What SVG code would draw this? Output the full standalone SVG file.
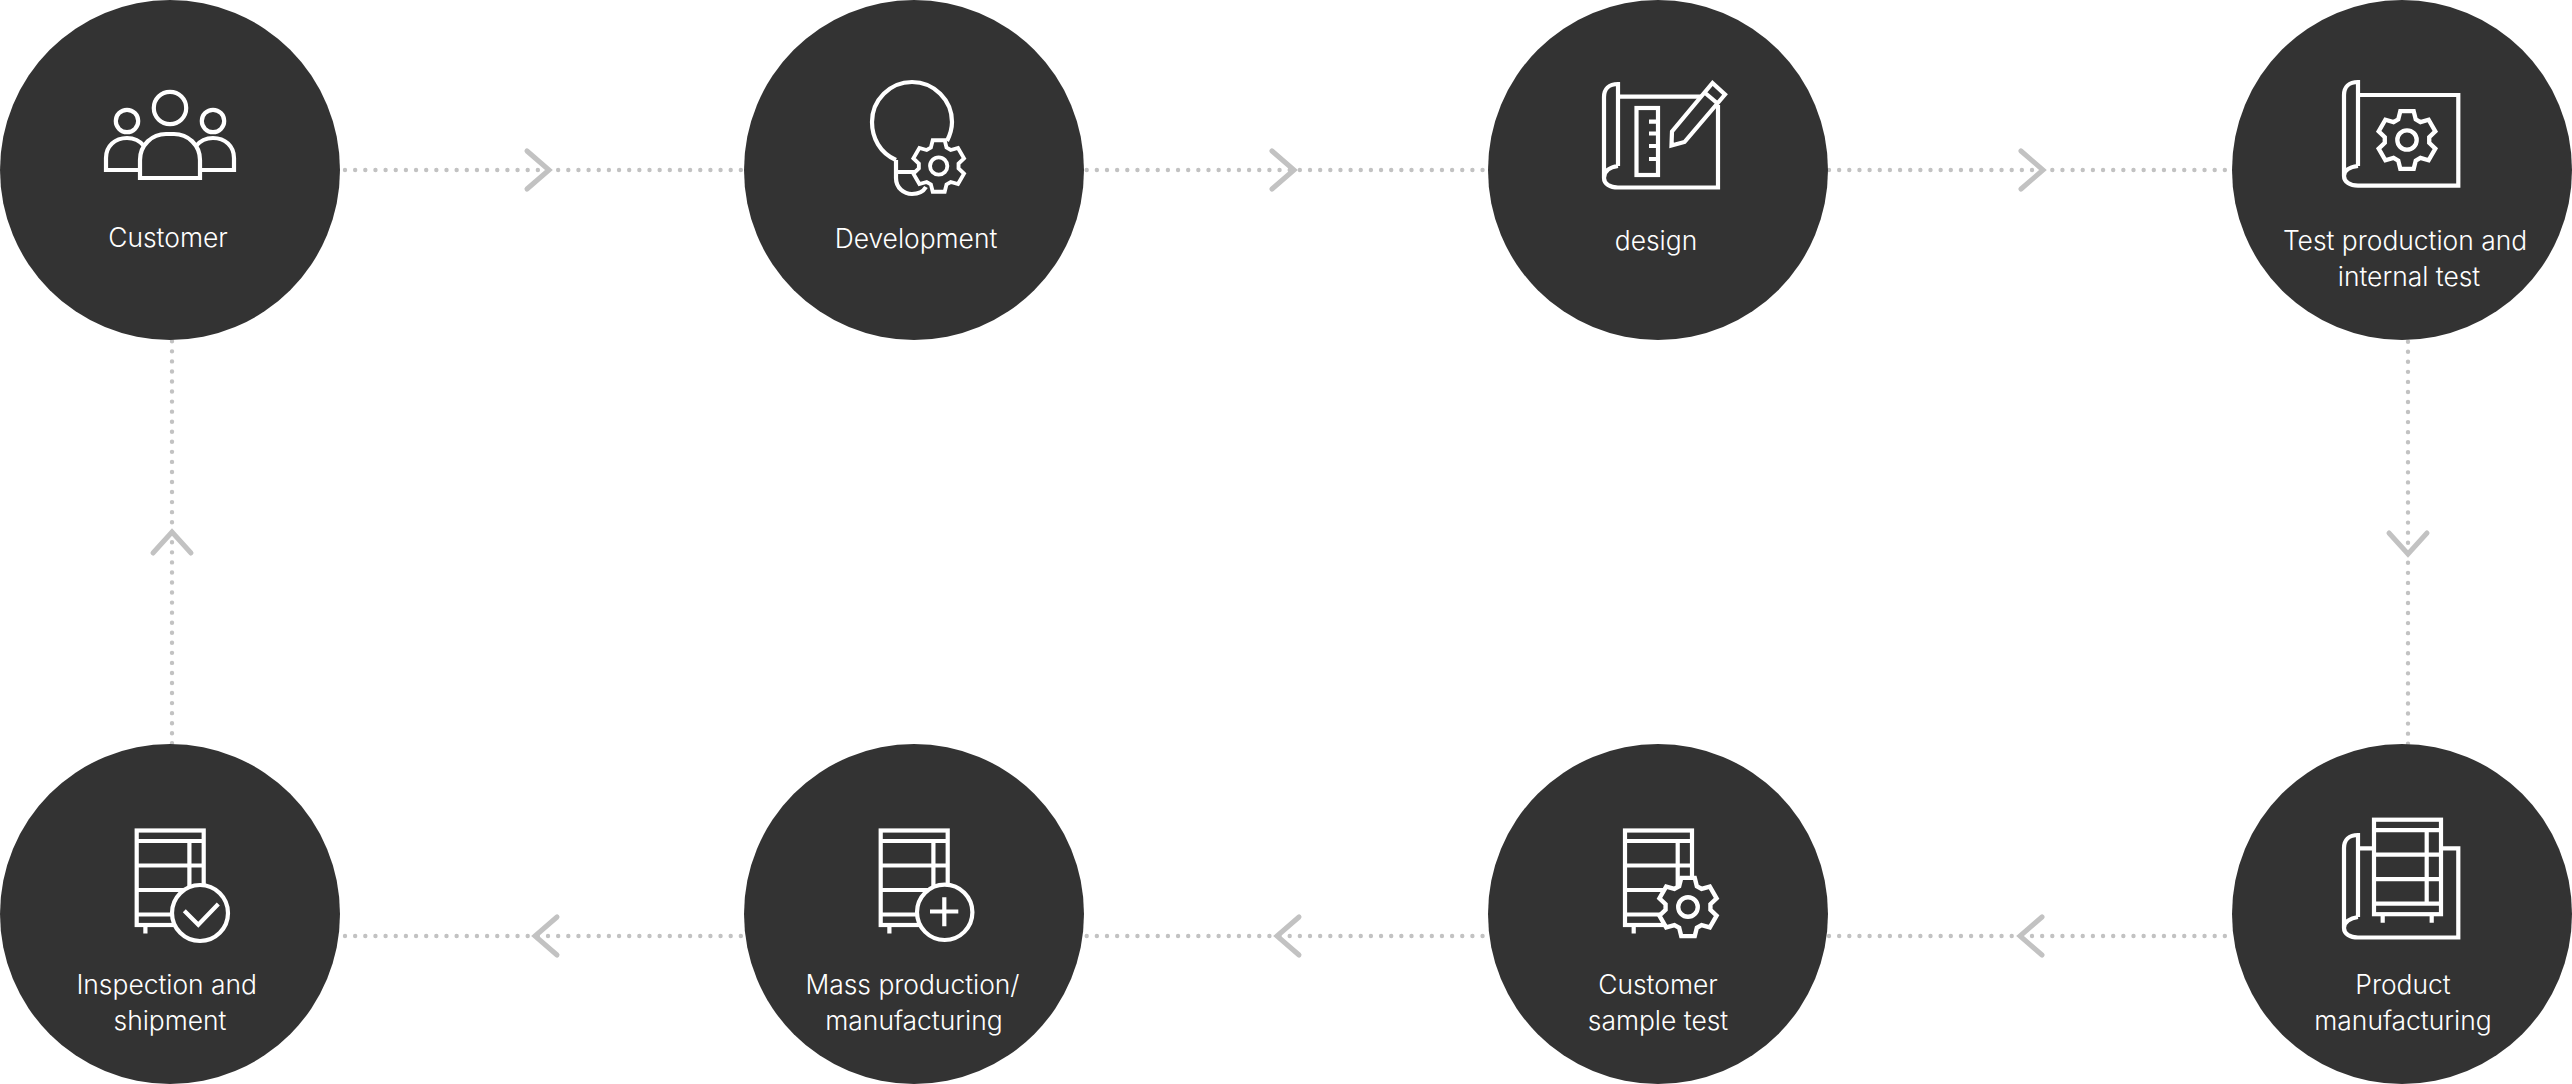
<svg xmlns="http://www.w3.org/2000/svg" width="2572" height="1084" viewBox="0 0 2572 1084">
<style>
.bg{fill:#333333}
.ic{fill:none;stroke:#ffffff;stroke-width:4.2;stroke-linejoin:miter}
.icf{fill:#333333;stroke:#ffffff;stroke-width:4.2;stroke-linejoin:miter}
.dot{fill:none;stroke:#c2c2c2;stroke-width:4.4;stroke-linecap:round;stroke-dasharray:0 10.15}
.dotv{fill:none;stroke:#c2c2c2;stroke-width:4.4;stroke-linecap:round;stroke-dasharray:0 10.05}
.chev{fill:none;stroke:#c2c2c2;stroke-width:5;stroke-linecap:round;stroke-linejoin:miter}
.t{font-family:Inter,"Liberation Sans",sans-serif;font-size:26.4px;font-weight:300;fill:#ffffff;text-anchor:middle}
</style>
<defs>
<g id="gear">
<path class="icf" d="M6.5 -28L8.5 -20L13.07 -17.36L21 -19.63L27.5 -8.37L21.57 -2.64L21.57 2.64L27.5 8.37L21 19.63L13.07 17.36L8.5 20L6.5 28L-6.5 28L-8.5 20L-13.07 17.36L-21 19.63L-27.5 8.37L-21.57 2.64L-21.57 -2.64L-27.5 -8.37L-21 -19.63L-13.07 -17.36L-8.5 -20L-6.5 -28Z"/>
<circle class="ic" r="9.4"/>
</g>
<g id="shelf">
<rect class="ic" x="0" y="0" width="67" height="94.5"/>
<path class="ic" d="M0 10.5H67M0 35H67M0 59.5H67M0 84H67M52.7 10.5V84M8.7 94.5V103M57.7 94.5V103"/>
</g>
</defs>
<g id="connectors">
<path class="dot" d="M345 170H744"/>
<path class="dot" d="M1086.7 170H1486"/>
<path class="dot" d="M1829 170H2228"/>
<path class="dot" d="M345 936H744"/>
<path class="dot" d="M1086.7 936H1486"/>
<path class="dot" d="M1829 936H2228"/>
<path class="dotv" d="M172 341.3V744"/>
<path class="dotv" d="M2408 341.7V744"/>
<path class="chev" d="M527 151L549 170L527 189"/>
<path class="chev" d="M1272 151L1294 170L1272 189"/>
<path class="chev" d="M2021 151L2043 170L2021 189"/>
<path class="chev" d="M2389 533L2408 554L2427 533"/>
<path class="chev" d="M2042 917L2020 936L2042 955"/>
<path class="chev" d="M1299 917L1277 936L1299 955"/>
<path class="chev" d="M557 917L535 936L557 955"/>
<path class="chev" d="M153 553L172 532L191 553"/>
</g>
<g id="node-customer">
<circle class="bg" cx="170" cy="170" r="170"/>
<circle class="ic" cx="170" cy="108" r="16.2"/>
<circle class="ic" cx="127" cy="121" r="11.2"/>
<circle class="ic" cx="213" cy="121" r="11.2"/>
<path class="ic" d="M140 178V160C140 145 152 134 166 134H174C188 134 200 145 200 160V178Z"/>
<path class="ic" d="M140 170H106V158C106 146 115 138 127 138C134 138 140 141 144 146"/>
<path class="ic" d="M200 170H234V158C234 146 225 138 213 138C206 138 200 141 196 146"/>
<text class="t" x="168" y="246.5">Customer</text>
</g>
<g id="node-development">
<circle class="bg" cx="914" cy="170" r="170"/>
<path class="ic" d="M896 160C880 153 872 138 872 122C872 100 890 82 912 82C934 82 952 100 952 122C952 129 950 135 947 141"/>
<path class="ic" d="M896 160V178C896 188 904 194 912 194C918 194 923 192 926 187M896 172H918"/>
<use href="#gear" transform="translate(938.7 166) scale(.92)"/>
<text class="t" x="916" y="247.5">Development</text>
</g>
<g id="node-design">
<circle class="bg" cx="1658" cy="170" r="170"/>
<path class="ic" d="M1618 166V84C1609 84 1604 89 1604 97V178C1604 184 1610 187.5 1618 187.5H1718V105M1618 96.7H1701M1618 166C1610 167 1604 171 1604 178"/>
<rect class="ic" x="1636.5" y="108" width="21.5" height="67"/>
<path class="ic" d="M1658 121.7H1649M1658 133.5H1649M1658 146H1649M1658 159H1649"/>
<path class="ic" d="M1712.5 83L1725 94.5L1684.5 142L1671.5 145.5L1672 131.5ZM1704 92L1717 103"/>
<text class="t" x="1656" y="250">design</text>
</g>
<g id="node-test">
<circle class="bg" cx="2402" cy="170" r="170"/>
<path class="ic" d="M2358 166V82C2349 82 2344 87 2344 95V176C2344 182 2350 185.7 2358 185.7H2458.3V95H2358M2358 166C2350 167 2344 170 2344 176"/>
<use href="#gear" transform="translate(2407 140) scale(1.03)"/>
<text class="t" x="2405" y="250">Test production and</text>
<text class="t" x="2409" y="285.5">internal test</text>
</g>
<g id="node-product">
<circle class="bg" cx="2402" cy="914" r="170"/>
<path class="ic" d="M2358 917V835C2349 835 2344 840 2344 848V928C2344 934 2350 937.5 2358 937.5H2458.3V848.3H2441M2374 848.3H2358M2358 917C2350 918 2344 922 2344 928"/>
<use href="#shelf" transform="translate(2374 819.7)"/>
<text class="t" x="2403" y="994">Product</text>
<text class="t" x="2403" y="1029.5">manufacturing</text>
</g>
<g id="node-sample">
<circle class="bg" cx="1658" cy="914" r="170"/>
<use href="#shelf" transform="translate(1625 830.5)"/>
<use href="#gear" transform="translate(1688 907) scale(1.04)"/>
<text class="t" x="1658" y="994">Customer</text>
<text class="t" x="1658" y="1029.5">sample test</text>
</g>
<g id="node-mass">
<circle class="bg" cx="914" cy="914" r="170"/>
<use href="#shelf" transform="translate(880.7 830.5)"/>
<circle class="icf" cx="944.7" cy="912.3" r="27.7"/>
<path class="ic" d="M930 911.5H958.3M944.3 897.3V926.3"/>
<text class="t" x="912.5" y="994">Mass production/</text>
<text class="t" x="914" y="1029.5">manufacturing</text>
</g>
<g id="node-inspection">
<circle class="bg" cx="170" cy="914" r="170"/>
<use href="#shelf" transform="translate(136.7 830.5)"/>
<circle class="icf" cx="200" cy="913" r="28"/>
<path class="ic" d="M184.3 910.7L198.3 924.7L218.3 904"/>
<text class="t" x="166.7" y="994">Inspection and</text>
<text class="t" x="170" y="1029.5">shipment</text>
</g>
</svg>
